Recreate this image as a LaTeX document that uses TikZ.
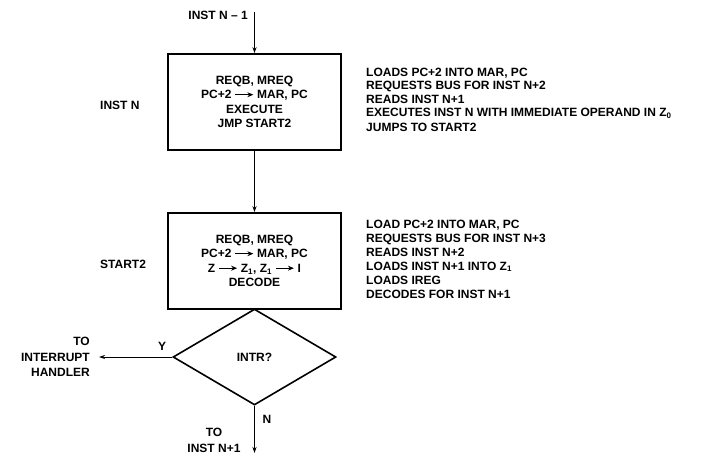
\documentclass[tikz,border=0pt]{standalone}
\usepackage{fontspec}
\setmainfont{Liberation Sans}
\usetikzlibrary{shapes.geometric,arrows.meta}
\newcommand{\rarrow}{\tikz[baseline=-4.2pt]\draw[line width=0.9pt,-{Stealth[length=6pt,width=5pt]}](0pt,0pt)--(18pt,0pt);}
\begin{document}
\begin{tikzpicture}[x=1pt,y=-1pt,
  txt/.style={font=\fontsize{12}{14.5}\selectfont\bfseries, inner sep=0pt},
  boxst/.style={txt, draw, line width=1.6pt, minimum width=173pt, minimum height=96pt, align=center},
  arr/.style={line width=1pt, -{Stealth[length=6pt,width=4pt]}}]
\useasboundingbox (0,0) rectangle (706,455);
% boxes
\node[boxst] (b1) at (254.5,102) {REQB, MREQ\\PC+2 \rarrow{} MAR, PC\\EXECUTE\\JMP START2};
\node[boxst] (b2) at (254.5,261) {REQB, MREQ\\PC+2 \rarrow{} MAR, PC\\Z \rarrow{} Z\textsubscript{1}, Z\textsubscript{1} \rarrow{} I\\DECODE};
\node[txt, draw, diamond, line width=1.6pt, minimum width=163pt, minimum height=96pt] (d) at (254.5,357) {INTR?};
% labels
\node[txt, anchor=east] (prev) at (248,15) {INST N – 1};
\node[txt, anchor=west] (ln) at (100,105) {INST N};
\node[txt, anchor=west] (ls) at (100,264) {START2};
\node[txt, font=\fontsize{12}{13.5}\selectfont\bfseries, anchor=north west, align=left] (r1) at (366,67.5)
  {LOADS PC+2 INTO MAR, PC\\REQUESTS BUS FOR INST N+2\\READS INST N+1\\EXECUTES INST N WITH IMMEDIATE OPERAND IN Z\textsubscript{0}\\[1.5pt]JUMPS TO START2};
\node[txt, font=\fontsize{12}{14}\selectfont\bfseries, anchor=north west, align=left] (r2) at (366,219.5)
  {LOAD PC+2 INTO MAR, PC\\REQUESTS BUS FOR INST N+3\\READS INST N+2\\LOADS INST N+1 INTO Z\textsubscript{1}\\LOADS IREG\\DECODES FOR INST N+1};
\node[txt, font=\fontsize{12}{15.5}\selectfont\bfseries, align=right, anchor=east] (h) at (90,357) {TO\\INTERRUPT\\HANDLER};
\node[txt] (y) at (162,346) {Y};
\node[txt] (n) at (267,419) {N};
\node[txt, font=\fontsize{12}{16}\selectfont\bfseries, align=center] (t) at (214,440) {TO\\INST N+1};
% connectors
\coordinate (start) at (254.5,12);
\coordinate (hand) at (99,357);
\coordinate (endc) at (254.5,453);
\draw[arr] (start) -- (b1.north);
\draw[arr] (b1.south) -- (b2.north);
\draw[arr] (d.west) -- (hand);
\draw[arr] (d.south) -- (endc);
\end{tikzpicture}
\end{document}
